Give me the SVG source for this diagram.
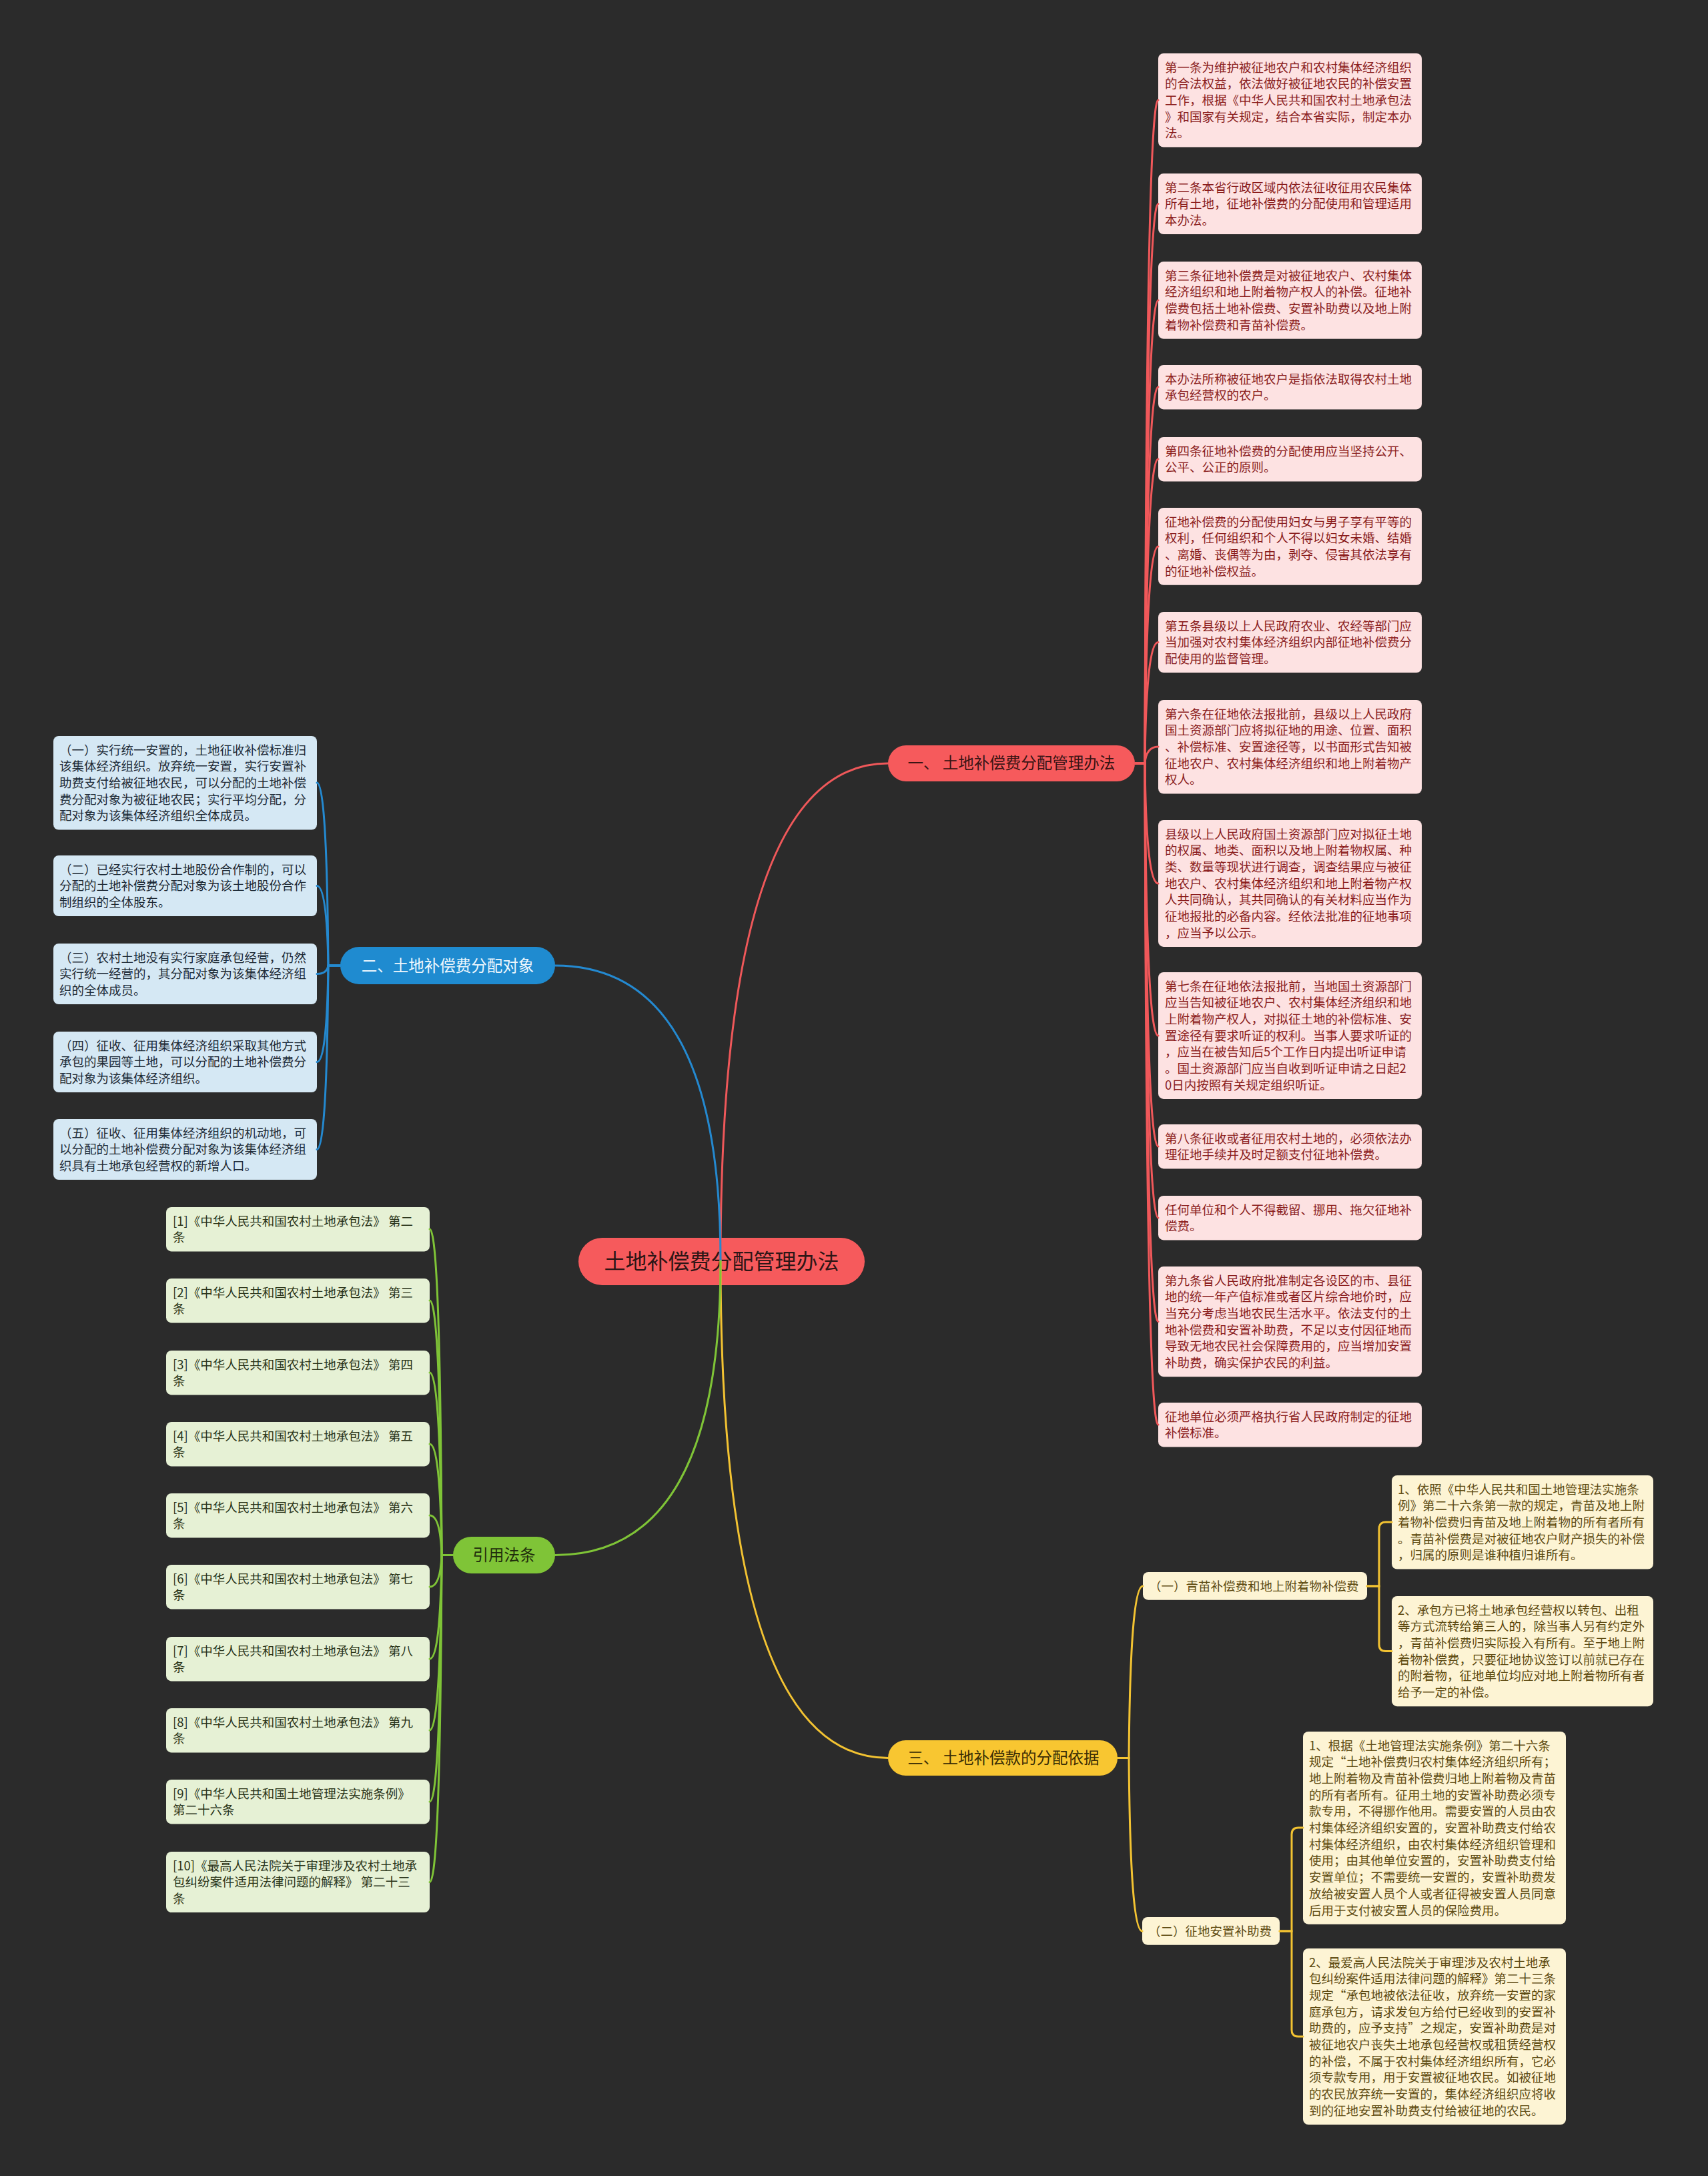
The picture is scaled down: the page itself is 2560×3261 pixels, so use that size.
<svg xmlns="http://www.w3.org/2000/svg" width="2560" height="3261" viewBox="0 0 2560 3261">
<style>
text{font-family:"Noto Sans CJK SC","Liberation Sans",sans-serif}
.lf{font-size:18.5px}
.rb{fill:#fde2e2}.rt{fill:#8a1c1c}
.bb{fill:#d5e8f4}.bt{fill:#1d2a36}
.gb{fill:#e6f1d5}.gt{fill:#2a3419}
.yb{fill:#fdf4d4}.yt{fill:#5e4b12}
.c{fill:none;stroke-width:3;stroke-linecap:round}
.cr{stroke:#f0585a}.cbl{stroke:#2489d0}.cg{stroke:#7fc437}.cy{stroke:#f3c332}
.pill{font-size:23.5px;text-anchor:middle}
</style>
<rect width="2560" height="3261" fill="#2b2b2b"/>

<g id="center">
<rect x="867" y="1855" width="429" height="71" rx="35.5" fill="#f65a5c"/>
<text x="1081.5" y="1902" font-size="32" text-anchor="middle" fill="#2e1616">土地补偿费分配管理办法</text>
</g>

<g id="branch1">
<rect x="1331" y="1117" width="370" height="54" rx="27" fill="#f65a5c"/>
<text class="pill" x="1516" y="1152" fill="#3a1414">一、 土地补偿费分配管理办法</text>
</g>
<g id="branch2">
<rect x="510" y="1419" width="322" height="56" rx="28" fill="#1f8bd0"/>
<text class="pill" x="671" y="1455.5" fill="#eef7fd">二、土地补偿费分配对象</text>
</g>
<g id="branch3">
<rect x="1331" y="2608" width="344" height="53" rx="26.5" fill="#f8c631"/>
<text class="pill" x="1504" y="2643" fill="#3b2e05">三、 土地补偿款的分配依据</text>
</g>
<g id="branch4">
<rect x="679" y="2303" width="153" height="55" rx="27.5" fill="#7fc437"/>
<text class="pill" x="755.5" y="2339" fill="#1f2d0c">引用法条</text>
</g>

<g id="r1"><rect class="rb" x="1736" y="80" width="395" height="140.5" rx="8"/>
<text class="lf rt"><tspan x="1746" y="107.5">第一条为维护被征地农户和农村集体经济组织</tspan><tspan x="1746" y="132.2">的合法权益，依法做好被征地农民的补偿安置</tspan><tspan x="1746" y="156.9">工作，根据《中华人民共和国农村土地承包法</tspan><tspan x="1746" y="181.6">》和国家有关规定，结合本省实际，制定本办</tspan><tspan x="1746" y="206.3">法。</tspan></text></g>
<g id="r2"><rect class="rb" x="1736" y="260" width="395" height="91.1" rx="8"/>
<text class="lf rt"><tspan x="1746" y="287.5">第二条本省行政区域内依法征收征用农民集体</tspan><tspan x="1746" y="312.2">所有土地，征地补偿费的分配使用和管理适用</tspan><tspan x="1746" y="336.9">本办法。</tspan></text></g>
<g id="r3"><rect class="rb" x="1736" y="392" width="395" height="115.8" rx="8"/>
<text class="lf rt"><tspan x="1746" y="419.5">第三条征地补偿费是对被征地农户、农村集体</tspan><tspan x="1746" y="444.2">经济组织和地上附着物产权人的补偿。征地补</tspan><tspan x="1746" y="468.9">偿费包括土地补偿费、安置补助费以及地上附</tspan><tspan x="1746" y="493.6">着物补偿费和青苗补偿费。</tspan></text></g>
<g id="r4"><rect class="rb" x="1736" y="547" width="395" height="66.4" rx="8"/>
<text class="lf rt"><tspan x="1746" y="574.5">本办法所称被征地农户是指依法取得农村土地</tspan><tspan x="1746" y="599.2">承包经营权的农户。</tspan></text></g>
<g id="r5"><rect class="rb" x="1736" y="655" width="395" height="66.4" rx="8"/>
<text class="lf rt"><tspan x="1746" y="682.5">第四条征地补偿费的分配使用应当坚持公开、</tspan><tspan x="1746" y="707.2">公平、公正的原则。</tspan></text></g>
<g id="r6"><rect class="rb" x="1736" y="761" width="395" height="115.8" rx="8"/>
<text class="lf rt"><tspan x="1746" y="788.5">征地补偿费的分配使用妇女与男子享有平等的</tspan><tspan x="1746" y="813.2">权利，任何组织和个人不得以妇女未婚、结婚</tspan><tspan x="1746" y="837.9">、离婚、丧偶等为由，剥夺、侵害其依法享有</tspan><tspan x="1746" y="862.6">的征地补偿权益。</tspan></text></g>
<g id="r7"><rect class="rb" x="1736" y="917" width="395" height="91.1" rx="8"/>
<text class="lf rt"><tspan x="1746" y="944.5">第五条县级以上人民政府农业、农经等部门应</tspan><tspan x="1746" y="969.2">当加强对农村集体经济组织内部征地补偿费分</tspan><tspan x="1746" y="993.9">配使用的监督管理。</tspan></text></g>
<g id="r8"><rect class="rb" x="1736" y="1049" width="395" height="140.5" rx="8"/>
<text class="lf rt"><tspan x="1746" y="1076.5">第六条在征地依法报批前，县级以上人民政府</tspan><tspan x="1746" y="1101.2">国土资源部门应将拟征地的用途、位置、面积</tspan><tspan x="1746" y="1125.9">、补偿标准、安置途径等，以书面形式告知被</tspan><tspan x="1746" y="1150.6">征地农户、农村集体经济组织和地上附着物产</tspan><tspan x="1746" y="1175.3">权人。</tspan></text></g>
<g id="r9"><rect class="rb" x="1736" y="1229" width="395" height="189.9" rx="8"/>
<text class="lf rt"><tspan x="1746" y="1256.5">县级以上人民政府国土资源部门应对拟征土地</tspan><tspan x="1746" y="1281.2">的权属、地类、面积以及地上附着物权属、种</tspan><tspan x="1746" y="1305.9">类、数量等现状进行调查，调查结果应与被征</tspan><tspan x="1746" y="1330.6">地农户、农村集体经济组织和地上附着物产权</tspan><tspan x="1746" y="1355.3">人共同确认，其共同确认的有关材料应当作为</tspan><tspan x="1746" y="1380">征地报批的必备内容。经依法批准的征地事项</tspan><tspan x="1746" y="1404.7">，应当予以公示。</tspan></text></g>
<g id="r10"><rect class="rb" x="1736" y="1457" width="395" height="189.9" rx="8"/>
<text class="lf rt"><tspan x="1746" y="1484.5">第七条在征地依法报批前，当地国土资源部门</tspan><tspan x="1746" y="1509.2">应当告知被征地农户、农村集体经济组织和地</tspan><tspan x="1746" y="1533.9">上附着物产权人，对拟征土地的补偿标准、安</tspan><tspan x="1746" y="1558.6">置途径有要求听证的权利。当事人要求听证的</tspan><tspan x="1746" y="1583.3">，应当在被告知后5个工作日内提出听证申请</tspan><tspan x="1746" y="1608">。国土资源部门应当自收到听证申请之日起2</tspan><tspan x="1746" y="1632.7">0日内按照有关规定组织听证。</tspan></text></g>
<g id="r11"><rect class="rb" x="1736" y="1685" width="395" height="66.4" rx="8"/>
<text class="lf rt"><tspan x="1746" y="1712.5">第八条征收或者征用农村土地的，必须依法办</tspan><tspan x="1746" y="1737.2">理征地手续并及时足额支付征地补偿费。</tspan></text></g>
<g id="r12"><rect class="rb" x="1736" y="1792" width="395" height="66.4" rx="8"/>
<text class="lf rt"><tspan x="1746" y="1819.5">任何单位和个人不得截留、挪用、拖欠征地补</tspan><tspan x="1746" y="1844.2">偿费。</tspan></text></g>
<g id="r13"><rect class="rb" x="1736" y="1898" width="395" height="165.2" rx="8"/>
<text class="lf rt"><tspan x="1746" y="1925.5">第九条省人民政府批准制定各设区的市、县征</tspan><tspan x="1746" y="1950.2">地的统一年产值标准或者区片综合地价时，应</tspan><tspan x="1746" y="1974.9">当充分考虑当地农民生活水平。依法支付的土</tspan><tspan x="1746" y="1999.6">地补偿费和安置补助费，不足以支付因征地而</tspan><tspan x="1746" y="2024.3">导致无地农民社会保障费用的，应当增加安置</tspan><tspan x="1746" y="2049">补助费，确实保护农民的利益。</tspan></text></g>
<g id="r14"><rect class="rb" x="1736" y="2102" width="395" height="66.4" rx="8"/>
<text class="lf rt"><tspan x="1746" y="2129.5">征地单位必须严格执行省人民政府制定的征地</tspan><tspan x="1746" y="2154.2">补偿标准。</tspan></text></g>

<g id="b1"><rect class="bb" x="80" y="1103" width="395" height="140.5" rx="8"/>
<text class="lf bt"><tspan x="89" y="1130.5">（一）实行统一安置的，土地征收补偿标准归</tspan><tspan x="89" y="1155.2">该集体经济组织。放弃统一安置，实行安置补</tspan><tspan x="89" y="1179.9">助费支付给被征地农民，可以分配的土地补偿</tspan><tspan x="89" y="1204.6">费分配对象为被征地农民；实行平均分配，分</tspan><tspan x="89" y="1229.3">配对象为该集体经济组织全体成员。</tspan></text></g>
<g id="b2"><rect class="bb" x="80" y="1282" width="395" height="91.1" rx="8"/>
<text class="lf bt"><tspan x="89" y="1309.5">（二）已经实行农村土地股份合作制的，可以</tspan><tspan x="89" y="1334.2">分配的土地补偿费分配对象为该土地股份合作</tspan><tspan x="89" y="1358.9">制组织的全体股东。</tspan></text></g>
<g id="b3"><rect class="bb" x="80" y="1414" width="395" height="91.1" rx="8"/>
<text class="lf bt"><tspan x="89" y="1441.5">（三）农村土地没有实行家庭承包经营，仍然</tspan><tspan x="89" y="1466.2">实行统一经营的，其分配对象为该集体经济组</tspan><tspan x="89" y="1490.9">织的全体成员。</tspan></text></g>
<g id="b4"><rect class="bb" x="80" y="1546" width="395" height="91.1" rx="8"/>
<text class="lf bt"><tspan x="89" y="1573.5">（四）征收、征用集体经济组织采取其他方式</tspan><tspan x="89" y="1598.2">承包的果园等土地，可以分配的土地补偿费分</tspan><tspan x="89" y="1622.9">配对象为该集体经济组织。</tspan></text></g>
<g id="b5"><rect class="bb" x="80" y="1677" width="395" height="91.1" rx="8"/>
<text class="lf bt"><tspan x="89" y="1704.5">（五）征收、征用集体经济组织的机动地，可</tspan><tspan x="89" y="1729.2">以分配的土地补偿费分配对象为该集体经济组</tspan><tspan x="89" y="1753.9">织具有土地承包经营权的新增人口。</tspan></text></g>

<g id="g1"><rect class="gb" x="249" y="1809" width="395" height="66.4" rx="8"/>
<text class="lf gt"><tspan x="259" y="1836.5">[1]《中华人民共和国农村土地承包法》 第二</tspan><tspan x="259" y="1861.2">条</tspan></text></g>
<g id="g2"><rect class="gb" x="249" y="1916" width="395" height="66.4" rx="8"/>
<text class="lf gt"><tspan x="259" y="1943.5">[2]《中华人民共和国农村土地承包法》 第三</tspan><tspan x="259" y="1968.2">条</tspan></text></g>
<g id="g3"><rect class="gb" x="249" y="2024" width="395" height="66.4" rx="8"/>
<text class="lf gt"><tspan x="259" y="2051.5">[3]《中华人民共和国农村土地承包法》 第四</tspan><tspan x="259" y="2076.2">条</tspan></text></g>
<g id="g4"><rect class="gb" x="249" y="2131" width="395" height="66.4" rx="8"/>
<text class="lf gt"><tspan x="259" y="2158.5">[4]《中华人民共和国农村土地承包法》 第五</tspan><tspan x="259" y="2183.2">条</tspan></text></g>
<g id="g5"><rect class="gb" x="249" y="2238" width="395" height="66.4" rx="8"/>
<text class="lf gt"><tspan x="259" y="2265.5">[5]《中华人民共和国农村土地承包法》 第六</tspan><tspan x="259" y="2290.2">条</tspan></text></g>
<g id="g6"><rect class="gb" x="249" y="2345" width="395" height="66.4" rx="8"/>
<text class="lf gt"><tspan x="259" y="2372.5">[6]《中华人民共和国农村土地承包法》 第七</tspan><tspan x="259" y="2397.2">条</tspan></text></g>
<g id="g7"><rect class="gb" x="249" y="2453" width="395" height="66.4" rx="8"/>
<text class="lf gt"><tspan x="259" y="2480.5">[7]《中华人民共和国农村土地承包法》 第八</tspan><tspan x="259" y="2505.2">条</tspan></text></g>
<g id="g8"><rect class="gb" x="249" y="2560" width="395" height="66.4" rx="8"/>
<text class="lf gt"><tspan x="259" y="2587.5">[8]《中华人民共和国农村土地承包法》 第九</tspan><tspan x="259" y="2612.2">条</tspan></text></g>
<g id="g9"><rect class="gb" x="249" y="2667" width="395" height="66.4" rx="8"/>
<text class="lf gt"><tspan x="259" y="2694.5">[9]《中华人民共和国土地管理法实施条例》</tspan><tspan x="259" y="2719.2">第二十六条</tspan></text></g>
<g id="g10"><rect class="gb" x="249" y="2775" width="395" height="91.1" rx="8"/>
<text class="lf gt"><tspan x="259" y="2802.5">[10]《最高人民法院关于审理涉及农村土地承</tspan><tspan x="259" y="2827.2">包纠纷案件适用法律问题的解释》 第二十三</tspan><tspan x="259" y="2851.9">条</tspan></text></g>

<g id="y1"><rect class="yb" x="1713" y="2356" width="336" height="41.7" rx="8"/>
<text class="lf yt" x="1722" y="2383.5">（一）青苗补偿费和地上附着物补偿费</text></g>
<g id="y2"><rect class="yb" x="1712" y="2873" width="206" height="41.7" rx="8"/>
<text class="lf yt" x="1721" y="2900.5">（二）征地安置补助费</text></g>
<g id="y1a"><rect class="yb" x="2086" y="2211" width="392" height="140.5" rx="8"/>
<text class="lf yt"><tspan x="2095" y="2238.5">1、依照《中华人民共和国土地管理法实施条</tspan><tspan x="2095" y="2263.2">例》第二十六条第一款的规定，青苗及地上附</tspan><tspan x="2095" y="2287.9">着物补偿费归青苗及地上附着物的所有者所有</tspan><tspan x="2095" y="2312.6">。青苗补偿费是对被征地农户财产损失的补偿</tspan><tspan x="2095" y="2337.3">，归属的原则是谁种植归谁所有。</tspan></text></g>
<g id="y1b"><rect class="yb" x="2086" y="2392" width="392" height="165.2" rx="8"/>
<text class="lf yt"><tspan x="2095" y="2419.5">2、承包方已将土地承包经营权以转包、出租</tspan><tspan x="2095" y="2444.2">等方式流转给第三人的，除当事人另有约定外</tspan><tspan x="2095" y="2468.9">，青苗补偿费归实际投入有所有。至于地上附</tspan><tspan x="2095" y="2493.6">着物补偿费，只要征地协议签订以前就已存在</tspan><tspan x="2095" y="2518.3">的附着物，征地单位均应对地上附着物所有者</tspan><tspan x="2095" y="2543">给予一定的补偿。</tspan></text></g>
<g id="y2a"><rect class="yb" x="1953" y="2595" width="394" height="288.7" rx="8"/>
<text class="lf yt"><tspan x="1962" y="2622.5">1、根据《土地管理法实施条例》第二十六条</tspan><tspan x="1962" y="2647.2">规定“土地补偿费归农村集体经济组织所有；</tspan><tspan x="1962" y="2671.9">地上附着物及青苗补偿费归地上附着物及青苗</tspan><tspan x="1962" y="2696.6">的所有者所有。征用土地的安置补助费必须专</tspan><tspan x="1962" y="2721.3">款专用，不得挪作他用。需要安置的人员由农</tspan><tspan x="1962" y="2746">村集体经济组织安置的，安置补助费支付给农</tspan><tspan x="1962" y="2770.7">村集体经济组织，由农村集体经济组织管理和</tspan><tspan x="1962" y="2795.4">使用；由其他单位安置的，安置补助费支付给</tspan><tspan x="1962" y="2820.1">安置单位；不需要统一安置的，安置补助费发</tspan><tspan x="1962" y="2844.8">放给被安置人员个人或者征得被安置人员同意</tspan><tspan x="1962" y="2869.5">后用于支付被安置人员的保险费用。</tspan></text></g>
<g id="y2b"><rect class="yb" x="1953" y="2920" width="394" height="264" rx="8"/>
<text class="lf yt"><tspan x="1962" y="2947.5">2、最爱高人民法院关于审理涉及农村土地承</tspan><tspan x="1962" y="2972.2">包纠纷案件适用法律问题的解释》第二十三条</tspan><tspan x="1962" y="2996.9">规定“承包地被依法征收，放弃统一安置的家</tspan><tspan x="1962" y="3021.6">庭承包方，请求发包方给付已经收到的安置补</tspan><tspan x="1962" y="3046.3">助费的，应予支持”之规定，安置补助费是对</tspan><tspan x="1962" y="3071">被征地农户丧失土地承包经营权或租赁经营权</tspan><tspan x="1962" y="3095.7">的补偿，不属于农村集体经济组织所有，它必</tspan><tspan x="1962" y="3120.4">须专款专用，用于安置被征地农民。如被征地</tspan><tspan x="1962" y="3145.1">的农民放弃统一安置的，集体经济组织应将收</tspan><tspan x="1962" y="3169.8">到的征地安置补助费支付给被征地的农民。</tspan></text></g>

<g id="connectors">
<path class="c cr" d="M1080 1890 Q1080 1144 1331 1144"/>
<path class="c cbl" d="M1080 1890 Q1080 1447 832 1447"/>
<path class="c cy" d="M1080 1890 Q1080 2634.5 1331 2634.5"/>
<path class="c cg" d="M1080 1890 Q1080 2330.5 832 2330.5"/>
<g class="c cr" stroke-width="2.5">
<path d="M1701 1144 H1716 Q1718 150 1736 150"/>
<path d="M1701 1144 H1716 Q1718 305.5 1736 305.5"/>
<path d="M1701 1144 H1716 Q1718 450 1736 450"/>
<path d="M1701 1144 H1716 Q1718 580 1736 580"/>
<path d="M1701 1144 H1716 Q1718 688 1736 688"/>
<path d="M1701 1144 H1716 Q1718 819 1736 819"/>
<path d="M1701 1144 H1716 Q1718 962.5 1736 962.5"/>
<path d="M1701 1144 H1716 Q1718 1119 1736 1119"/>
<path d="M1701 1144 H1716 Q1718 1324 1736 1324"/>
<path d="M1701 1144 H1716 Q1718 1552 1736 1552"/>
<path d="M1701 1144 H1716 Q1718 1718 1736 1718"/>
<path d="M1701 1144 H1716 Q1718 1825 1736 1825"/>
<path d="M1701 1144 H1716 Q1718 1980.6 1736 1980.6"/>
<path d="M1701 1144 H1716 Q1718 2135 1736 2135"/>
</g>
<g class="c cbl" stroke-width="2.5">
<path d="M510 1447 H492 Q490 1173 475 1173"/>
<path d="M510 1447 H492 Q490 1327.5 475 1327.5"/>
<path d="M510 1447 H492 Q490 1459.5 475 1459.5"/>
<path d="M510 1447 H492 Q490 1591.5 475 1591.5"/>
<path d="M510 1447 H492 Q490 1722.5 475 1722.5"/>
</g>
<g class="c cg" stroke-width="2.5">
<path d="M679 2330.5 H662 Q660 1842 644 1842"/>
<path d="M679 2330.5 H662 Q660 1949 644 1949"/>
<path d="M679 2330.5 H662 Q660 2057 644 2057"/>
<path d="M679 2330.5 H662 Q660 2164 644 2164"/>
<path d="M679 2330.5 H662 Q660 2271 644 2271"/>
<path d="M679 2330.5 H662 Q660 2378 644 2378"/>
<path d="M679 2330.5 H662 Q660 2486 644 2486"/>
<path d="M679 2330.5 H662 Q660 2593 644 2593"/>
<path d="M679 2330.5 H662 Q660 2700 644 2700"/>
<path d="M679 2330.5 H662 Q660 2820.5 644 2820.5"/>
</g>
<g class="c cy" stroke-width="2.5">
<path d="M1675 2634.5 H1692 Q1694 2377 1713 2377"/>
<path d="M1675 2634.5 H1692 Q1694 2894 1712 2894"/>
<path d="M2049 2377 H2067 V2291 Q2067 2281 2077 2281 H2086"/>
<path d="M2049 2377 H2067 V2464.6 Q2067 2474.6 2077 2474.6 H2086"/>
<path d="M1918 2894 H1936 V2749 Q1936 2739 1946 2739 H1953"/>
<path d="M1918 2894 H1936 V3042 Q1936 3052 1946 3052 H1953"/>
</g>
</g>
</svg>
